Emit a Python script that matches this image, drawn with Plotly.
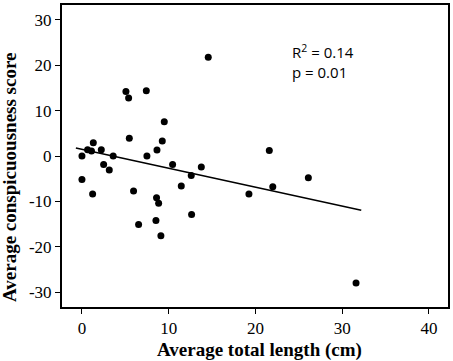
import numpy as np
import plotly.graph_objects as go

length_cm = [14.56, 5.07, 5.38, 7.42, 9.49, 5.46, 9.26, 8.65, 7.49, 3.6,
             2.23, 1.31, 0.65, 1.1, 0.0, 2.5, 3.15, 10.45, 13.76, 12.6,
             0.0, 1.23, 5.95, 8.6, 8.84, 11.45, 19.25, 8.53, 6.53, 9.1,
             12.64, 21.6, 26.1, 22.0, 31.6]
score = [21.8, 14.2, 12.8, 14.4, 7.55, 3.9, 3.3, 1.3, 0.0, 0.0,
         1.4, 2.9, 1.4, 1.1, 0.0, -1.85, -3.1, -1.9, -2.4, -4.3,
         -5.2, -8.4, -7.7, -9.2, -10.4, -6.6, -8.4, -14.2, -15.1, -17.6,
         -12.9, 1.2, -4.8, -6.8, -28.0]
fit_x_range = [-0.7, 32.2]
x_ticks = [0, 10, 20, 30, 40]
x_tick_labels = ["0", "10", "20", "30", "40"]
y_ticks = [-30, -20, -10, 0, 10, 20, 30]
y_tick_labels = ["-30", "-20", "-10", "0", "10", "20", "30"]

slope, intercept = np.polyfit(length_cm, score, 1)
fit_x = np.array(fit_x_range)
fit_y = intercept + slope * fit_x

SERIF = "Liberation Serif"
SANS = "Open Sans"

W, H = 453, 361
ML, MR, MT, MB = 62, 5, 5, 54

fig = go.Figure()
fig.add_trace(go.Scatter(x=length_cm, y=score, mode="markers",
                         marker=dict(color="black", size=7), showlegend=False,
                         hoverinfo="skip"))
fig.add_trace(go.Scatter(x=fit_x, y=fit_y, mode="lines",
                         line=dict(color="black", width=1.5), showlegend=False,
                         hoverinfo="skip"))

fig.add_annotation(x=24.0, y=23.0, xref="x", yref="y", xanchor="left", yanchor="middle",
                   text="R<sup>2</sup> = 0.14", showarrow=False,
                   font=dict(family=SANS, size=15, color="black"))
fig.add_annotation(x=24.0, y=18.6, xref="x", yref="y", xanchor="left", yanchor="middle",
                   text="p = 0.01", showarrow=False,
                   font=dict(family=SANS, size=15, color="black"))

# axis titles (positions given in pixels, converted to paper units)
def px_x(p):
    return (p - ML) / (W - ML - MR)

def px_y(p):
    return (H - p - MB) / (H - MT - MB)

fig.add_annotation(x=px_x(259), y=px_y(350), xref="paper", yref="paper",
                   text="<b>Average total length (cm)</b>", showarrow=False,
                   xanchor="center", yanchor="middle",
                   font=dict(family=SERIF, size=19, color="black"))
fig.add_annotation(x=px_x(10), y=px_y(178), xref="paper", yref="paper",
                   text="<b>Average conspicuousness score</b>", showarrow=False,
                   textangle=-90, xanchor="center", yanchor="middle",
                   font=dict(family=SERIF, size=19, color="black"))

axis_common = dict(showgrid=False, zeroline=False, showline=True, linecolor="black",
                   linewidth=2, mirror=True, ticks="outside", ticklen=5, tickwidth=1.2,
                   tickcolor="black", automargin=False, tickmode="array",
                   tickfont=dict(family=SERIF, size=17, color="black"))

fig.update_xaxes(range=[-2.3, 42.2], tickvals=x_ticks, ticktext=x_tick_labels, **axis_common)
fig.update_yaxes(range=[-33.3, 33.3], tickvals=y_ticks, ticktext=y_tick_labels, **axis_common)

fig.update_layout(width=W, height=H, margin=dict(l=ML, r=MR, t=MT, b=MB),
                  plot_bgcolor="white", paper_bgcolor="white", hovermode=False)

fig.write_html("out.html", config={"displayModeBar": False},
               post_script="document.body.style.margin='0px';document.body.style.overflow='hidden';")
